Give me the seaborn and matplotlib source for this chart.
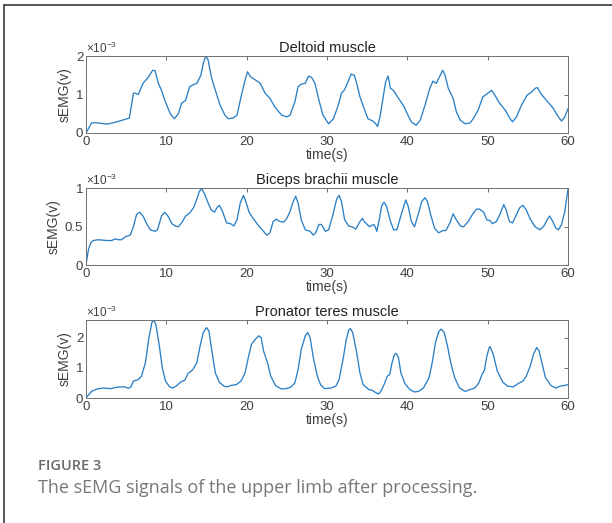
import seaborn as sns
from matplotlib import pyplot as plt
from matplotlib.lines import Line2D
import pandas as pd

# Values, in units of 1e-3 V
deltoid_t = [0, 0.7, 1.2, 2.6, 3.5, 4.5, 5.1, 5.4, 5.7, 5.9,
             6.1, 6.5, 7.1, 7.8, 8.3, 8.6, 9.0, 9.4, 9.8, 10.5,
             11.0, 11.5, 11.9, 12.4, 12.9, 13.4, 13.8, 14.3, 14.6, 14.9,
             15.2, 15.6, 16.1, 16.7, 17.3, 17.7, 18.3, 18.8, 19.3, 19.8,
             20.1, 20.5, 21.0, 21.7, 22.3, 22.9, 23.5, 24.0, 24.4, 25.0,
             25.4, 26.0, 26.4, 26.8, 27.3, 27.7, 28.1, 28.5, 29.0, 29.5,
             30.2, 30.8, 31.4, 31.8, 32.2, 32.7, 33.0, 33.4, 33.7, 34.1,
             34.7, 35.1, 35.7, 36.1, 36.3, 36.6, 37.0, 37.3, 37.6, 37.9,
             38.3, 38.9, 39.5, 40.0, 40.5, 41.1, 41.6, 42.2, 42.8, 43.2,
             43.6, 44.1, 44.4, 44.7, 45.1, 45.7, 46.1, 46.6, 47.2, 47.8,
             48.2, 48.8, 49.4, 50.0, 50.5, 50.9, 51.5, 52.2, 52.8, 53.1,
             53.6, 54.2, 54.9, 55.5, 55.9, 56.2, 56.6, 57.3, 58.1, 58.8,
             59.2, 59.6, 60.0]
deltoid_v = [0, 0.26, 0.27, 0.23, 0.27, 0.33, 0.37, 0.39, 0.77, 1.03,
             1.04, 1.00, 1.29, 1.46, 1.63, 1.62, 1.29, 1.11, 0.85, 0.50,
             0.37, 0.50, 0.77, 0.85, 1.20, 1.26, 1.29, 1.50, 1.81, 2.00,
             1.90, 1.46, 1.11, 0.72, 0.46, 0.37, 0.39, 0.46, 0.94, 1.37,
             1.59, 1.46, 1.39, 1.29, 1.03, 0.90, 0.68, 0.55, 0.46, 0.42,
             0.46, 0.81, 1.20, 1.27, 1.29, 1.48, 1.44, 1.29, 0.85, 0.46,
             0.24, 0.37, 0.72, 1.03, 1.13, 1.37, 1.53, 1.50, 1.29, 0.94,
             0.59, 0.37, 0.31, 0.23, 0.17, 0.42, 0.94, 1.33, 1.48, 1.16,
             1.10, 0.90, 0.72, 0.50, 0.29, 0.20, 0.33, 0.72, 1.16, 1.35,
             1.29, 1.50, 1.63, 1.50, 1.16, 0.90, 0.55, 0.33, 0.24, 0.26,
             0.37, 0.59, 0.94, 1.03, 1.11, 0.98, 0.77, 0.59, 0.37, 0.29,
             0.42, 0.72, 0.98, 1.07, 1.16, 1.18, 1.03, 0.85, 0.66, 0.42,
             0.31, 0.42, 0.63]

biceps_t = [0, 0.3, 0.6, 0.9, 1.5, 2.6, 3.2, 3.6, 4.1, 4.4,
            4.9, 5.5, 5.9, 6.3, 6.7, 7.1, 7.6, 8.0, 8.6, 8.9,
            9.4, 9.8, 10.2, 10.7, 11.1, 11.5, 11.9, 12.4, 12.9, 13.4,
            13.8, 14.1, 14.4, 14.8, 15.2, 15.6, 16.0, 16.3, 16.6, 17.0,
            17.5, 18.0, 18.4, 18.8, 19.2, 19.6, 19.9, 20.3, 20.8, 21.5,
            22.1, 22.5, 22.9, 23.3, 23.7, 24.1, 24.6, 25.0, 25.4, 25.8,
            26.1, 26.4, 26.8, 27.3, 27.9, 28.3, 28.6, 29.0, 29.3, 29.8,
            30.2, 30.7, 31.2, 31.5, 31.8, 32.2, 32.7, 33.1, 33.6, 34.0,
            34.4, 34.7, 35.3, 35.8, 36.0, 36.2, 36.5, 36.8, 37.1, 37.4,
            37.9, 38.3, 38.7, 39.3, 39.8, 40.1, 40.5, 40.9, 41.4, 41.8,
            42.2, 42.5, 42.95, 43.4, 43.9, 44.4, 44.8, 45.3, 45.7, 46.1,
            46.6, 47.0, 47.6, 48.1, 48.6, 49.0, 49.5, 49.9, 50.3, 50.6,
            51.1, 51.6, 52.0, 52.3, 52.7, 53.1, 53.6, 54.0, 54.4, 54.8,
            55.3, 55.9, 56.5, 57.0, 57.4, 57.7, 58.1, 58.5, 58.8, 59.2,
            59.6, 60.0]
biceps_v = [0, 0.20, 0.29, 0.32, 0.33, 0.32, 0.32, 0.34, 0.33, 0.33,
            0.37, 0.39, 0.50, 0.66, 0.69, 0.64, 0.53, 0.46, 0.44, 0.46,
            0.64, 0.69, 0.64, 0.54, 0.51, 0.50, 0.55, 0.64, 0.68, 0.75,
            0.86, 0.96, 1.00, 0.92, 0.81, 0.72, 0.69, 0.75, 0.78, 0.70,
            0.55, 0.54, 0.51, 0.59, 0.81, 0.91, 0.83, 0.69, 0.61, 0.51,
            0.44, 0.39, 0.42, 0.57, 0.60, 0.57, 0.56, 0.61, 0.70, 0.83,
            0.90, 0.81, 0.59, 0.46, 0.44, 0.39, 0.42, 0.53, 0.53, 0.44,
            0.46, 0.64, 0.86, 0.91, 0.83, 0.59, 0.51, 0.50, 0.47, 0.55,
            0.61, 0.56, 0.50, 0.53, 0.50, 0.44, 0.59, 0.77, 0.82, 0.77,
            0.57, 0.46, 0.46, 0.68, 0.85, 0.77, 0.57, 0.50, 0.68, 0.83,
            0.88, 0.83, 0.64, 0.48, 0.42, 0.45, 0.45, 0.55, 0.67, 0.59,
            0.51, 0.50, 0.57, 0.66, 0.73, 0.73, 0.69, 0.59, 0.58, 0.54,
            0.57, 0.68, 0.79, 0.72, 0.57, 0.55, 0.66, 0.75, 0.78, 0.72,
            0.60, 0.50, 0.46, 0.51, 0.59, 0.64, 0.57, 0.48, 0.46, 0.53,
            0.70, 0.99]

pronator_t = [0, 0.7, 1.4, 2.2, 3.1, 3.9, 4.8, 5.3, 5.6, 5.9,
              6.5, 6.9, 7.4, 7.8, 8.2, 8.4, 8.7, 9.1, 9.5, 9.9,
              10.4, 10.8, 11.2, 11.8, 12.3, 12.7, 13.3, 13.8, 14.2, 14.6,
              15.0, 15.3, 15.7, 16.1, 16.6, 17.2, 17.6, 18.1, 18.7, 19.3,
              19.8, 20.2, 20.6, 21.0, 21.5, 21.8, 22.1, 22.6, 23.0, 23.6,
              24.3, 24.9, 25.5, 26.0, 26.4, 26.8, 27.3, 27.6, 27.9, 28.3,
              28.8, 29.2, 29.7, 30.5, 31.1, 31.5, 32.0, 32.4, 32.7, 32.9,
              33.2, 33.7, 34.1, 34.5, 35.2, 35.6, 36.0, 36.4, 36.7, 37.1,
              37.5, 37.8, 38.1, 38.4, 38.6, 38.9, 39.2, 39.7, 40.3, 40.9,
              41.4, 42.0, 42.7, 43.1, 43.5, 43.9, 44.2, 44.6, 45.0, 45.4,
              45.9, 46.5, 47.2, 47.8, 48.4, 48.9, 49.3, 49.6, 49.9, 50.2,
              50.3, 50.7, 51.2, 51.9, 52.5, 53.2, 53.8, 54.4, 54.8, 55.3,
              55.7, 56.1, 56.4, 56.8, 57.2, 57.9, 58.5, 59.0, 59.4, 60.0]
pronator_v = [0, 0.22, 0.30, 0.33, 0.31, 0.36, 0.37, 0.32, 0.37, 0.56,
              0.61, 0.72, 1.17, 1.94, 2.50, 2.58, 2.44, 1.78, 1.00, 0.56,
              0.37, 0.33, 0.39, 0.53, 0.59, 0.81, 0.94, 1.17, 1.72, 2.17,
              2.33, 2.22, 1.50, 0.83, 0.52, 0.39, 0.37, 0.42, 0.44, 0.56,
              0.83, 1.33, 1.78, 1.92, 2.06, 2.00, 1.56, 1.17, 0.72, 0.41,
              0.30, 0.31, 0.36, 0.50, 0.94, 1.61, 2.06, 2.17, 2.00, 1.33,
              0.72, 0.44, 0.31, 0.33, 0.39, 0.61, 1.28, 1.94, 2.24, 2.30,
              2.17, 1.50, 0.83, 0.44, 0.28, 0.26, 0.19, 0.13, 0.22, 0.44,
              0.72, 0.78, 1.17, 1.44, 1.48, 1.33, 0.83, 0.48, 0.28, 0.20,
              0.22, 0.33, 0.67, 1.17, 1.83, 2.19, 2.28, 2.17, 1.72, 1.17,
              0.67, 0.33, 0.22, 0.28, 0.33, 0.50, 0.78, 0.92, 1.39, 1.67,
              1.70, 1.44, 0.89, 0.52, 0.39, 0.37, 0.48, 0.56, 0.72, 1.06,
              1.44, 1.67, 1.56, 1.11, 0.67, 0.41, 0.33, 0.39, 0.41, 0.44]

titles = ["Deltoid muscle", "Biceps brachii muscle", "Pronator teres muscle"]
y_tops = [2.0, 1.0, 2.58]
y_ticks = [[0, 1, 2], [0, 0.5, 1], [0, 1, 2]]
y_ticklabels = [["0", "1", "2"], ["0", "0.5", "1"], ["0", "1", "2"]]
x_ticks = [0, 10, 20, 30, 40, 50, 60]

sns.set_theme(style="white")
plt.rcParams['font.family'] = ['Liberation Sans', 'DejaVu Sans']
plt.rcParams['mathtext.fontset'] = 'custom'
plt.rcParams['mathtext.rm'] = 'Liberation Sans'
plt.rcParams['mathtext.default'] = 'regular'

text_c = '#404040'
line_c = '#2a80c6'

fig = plt.figure(figsize=(6.12, 5.23), dpi=100)
fig.patch.set_facecolor('white')

# axes boxes in figure fractions: left, bottom, width, height
boxes = [[0.1405, 0.7457, 0.7876, 0.1472],
         [0.1405, 0.4933, 0.7876, 0.1463],
         [0.1405, 0.2390, 0.7876, 0.1490]]

series = [(deltoid_t, deltoid_v), (biceps_t, biceps_v), (pronator_t, pronator_v)]

for i, (t, v) in enumerate(series):
    ax = fig.add_axes(boxes[i])
    df = pd.DataFrame({"time": t, "semg": v})
    sns.lineplot(data=df, x="time", y="semg", ax=ax, color=line_c,
                 linewidth=0.95, estimator=None, sort=False)
    ax.set_xlim(0, 60)
    ax.set_ylim(0, y_tops[i])
    ax.set_xticks(x_ticks)
    ax.set_yticks(y_ticks[i])
    ax.set_yticklabels(y_ticklabels[i])
    ax.tick_params(direction='in', length=3, width=0.6, colors='#555555',
                   labelcolor=text_c, labelsize=9.5, top=True, right=True,
                   pad=2)
    for s in ax.spines.values():
        s.set_color('#707070')
        s.set_linewidth(0.7)
    ax.set_xlabel("time(s)", fontsize=10, color=text_c, labelpad=0)
    ax.set_ylabel("sEMG(v)", fontsize=10, color=text_c, labelpad=3)
    ax.set_title(titles[i], fontsize=10.5, color='#202020', pad=3)
    ax.text(0.0, 1.005, r'×10$^{-3}$', transform=ax.transAxes,
            ha='left', va='bottom', fontsize=8.5, color=text_c)

# framed caption box (only top and left edges visible)
fig.add_artist(Line2D([4 / 612, 4 / 612], [0, 1 - 5 / 523],
                      transform=fig.transFigure, color='#3a3a3a', lw=1.2))
fig.add_artist(Line2D([4 / 612, 1], [1 - 5 / 523, 1 - 5 / 523],
                      transform=fig.transFigure, color='#3a3a3a', lw=1.2))

fig.text(38 / 612, 1 - 470 / 523, "FIGURE 3", fontsize=10.5,
         family=['Open Sans', 'DejaVu Sans'], weight='semibold',
         color='#6a6a6a', va='baseline', ha='left')
fig.text(38 / 612, 1 - 493 / 523,
         "The sEMG signals of the upper limb after processing.",
         fontsize=13, family=['Open Sans', 'DejaVu Sans'],
         color='#777777', va='baseline', ha='left')

fig.savefig("out.png", dpi=100, facecolor='white')
